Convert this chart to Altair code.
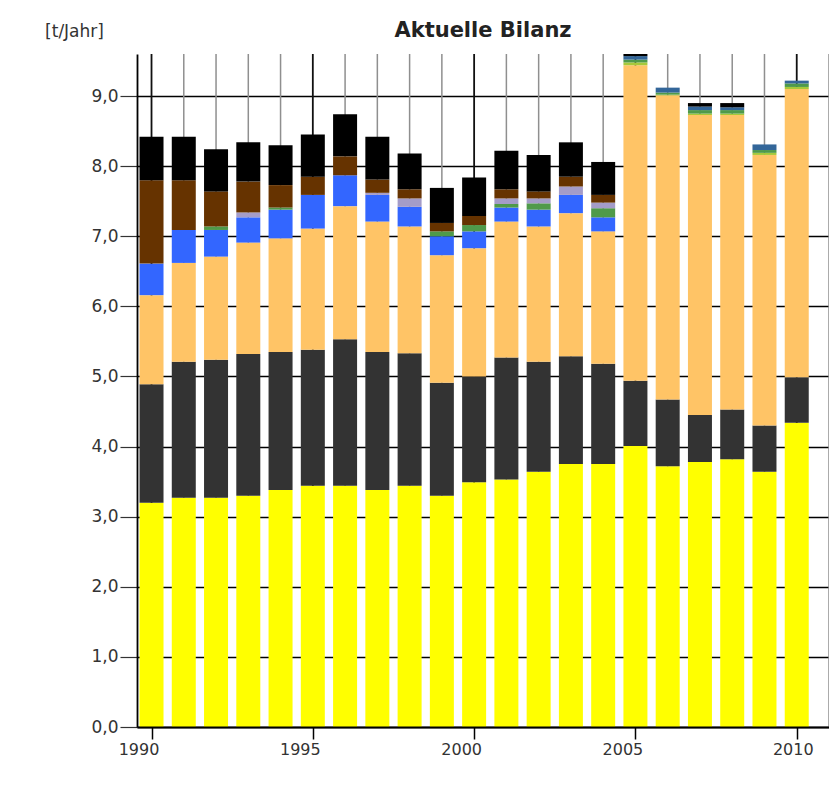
import altair as alt
import pandas as pd

# ---- data, stacked bottom -> top ----
years = list(range(1990, 2011))
yellow = [3.20, 3.27, 3.27, 3.30, 3.38, 3.44, 3.44, 3.38, 3.44, 3.30, 3.49,
          3.53, 3.64, 3.75, 3.75, 4.01, 3.72, 3.78, 3.82, 3.64, 4.34]
dark_gray = [1.69, 1.94, 1.97, 2.02, 1.97, 1.94, 2.09, 1.97, 1.89, 1.61, 1.51,
             1.74, 1.57, 1.54, 1.43, 0.93, 0.95, 0.67, 0.71, 0.66, 0.65]
orange = [1.27, 1.41, 1.47, 1.59, 1.62, 1.73, 1.90, 1.86, 1.81, 1.82, 1.83,
          1.94, 1.93, 2.04, 1.89, 4.50, 4.34, 4.28, 4.20, 3.86, 4.11]
yellow_green = [0, 0, 0, 0, 0, 0, 0, 0, 0, 0, 0,
                0, 0, 0, 0, 0.04, 0.01, 0.02, 0.02, 0.03, 0.03]
blue = [0.45, 0.47, 0.38, 0.36, 0.41, 0.48, 0.44, 0.38, 0.28, 0.27, 0.24,
        0.20, 0.24, 0.26, 0.20, 0, 0, 0, 0, 0, 0]
green = [0, 0, 0.05, 0, 0.03, 0, 0, 0, 0, 0.07, 0.09,
         0.05, 0.09, 0, 0.13, 0.04, 0.03, 0.05, 0.05, 0.04, 0.05]
steel = [0, 0, 0, 0, 0, 0, 0, 0, 0, 0, 0,
         0, 0, 0, 0, 0.05, 0.07, 0.05, 0.04, 0.08, 0.04]
lavender = [0, 0, 0, 0.07, 0, 0, 0, 0.03, 0.12, 0, 0,
            0.08, 0.07, 0.12, 0.08, 0, 0, 0, 0, 0, 0]
brown = [1.19, 0.71, 0.50, 0.44, 0.32, 0.26, 0.27, 0.19, 0.13, 0.12, 0.13,
         0.13, 0.10, 0.14, 0.11, 0, 0, 0, 0, 0, 0]
black = [0.62, 0.62, 0.60, 0.56, 0.57, 0.60, 0.60, 0.61, 0.51, 0.50, 0.55,
         0.55, 0.52, 0.49, 0.47, 0.03, 0, 0.05, 0.06, 0, 0]

series_names = ["s1", "s2", "s3", "s4", "s5", "s6", "s7", "s8", "s9", "s10"]
series_values = [yellow, dark_gray, orange, yellow_green, blue, green,
                 steel, lavender, brown, black]
series_colors = ["#FFFF00", "#333333", "#FFC466", "#A6C93A", "#3366FF",
                 "#4F9A4A", "#336699", "#A49CC8", "#663300", "#000000"]
x_labels = [1990, 1995, 2000, 2005, 2010]
y_ticks = list(range(0, 10))

rows = []
for k, (name, vals) in enumerate(zip(series_names, series_values)):
    for yr, v in zip(years, vals):
        rows.append({"Jahr": yr, "Quelle": name, "Wert": v, "k": k})
df = pd.DataFrame(rows)

grid_years = years + [years[-1] + 1]
major = pd.DataFrame({"Jahr": [y for y in grid_years if y % 5 == 0]})
minor = pd.DataFrame({"Jahr": [y for y in grid_years if y % 5 != 0]})

W, H = 692, 673
x_scale = alt.Scale(domain=[1989.55, 2011.0], nice=False, zero=False, padding=0)
y_scale = alt.Scale(domain=[0, 9.6], nice=False, padding=0)

x_axis = alt.Axis(values=x_labels, format="d", grid=False,
                  tickSize=12, labelFontSize=16, zindex=1,
                  labelOffset={"condition": {"test": "datum.value == 2010", "value": -4},
                               "value": -13})


def x_enc():
    return alt.X("Jahr:Q", scale=x_scale, title=None, axis=x_axis)


minor_rules = alt.Chart(minor).mark_rule(color="#8f8f8f", strokeWidth=1.5).encode(
    x=x_enc(), y=alt.value(0), y2=alt.value(H),
)
major_rules = alt.Chart(major).mark_rule(color="#111111", strokeWidth=1.8).encode(
    x=x_enc(), y=alt.value(0), y2=alt.value(H),
)

bars = alt.Chart(df).mark_bar(size=24).encode(
    x=x_enc(),
    y=alt.Y("Wert:Q", stack="zero", scale=y_scale,
            axis=alt.Axis(values=y_ticks,
                          labelExpr="replace(format(datum.value, '.1f'), '.', ',')",
                          grid=True, gridColor="#000", gridWidth=1.6,
                          tickSize=17, tickWidth=1.2, tickColor="#333",
                          labelFontSize=17,
                          title="[t/Jahr]", titleAngle=0, titleX=-63, titleY=-18,
                          titleAlign="center", titleBaseline="alphabetic",
                          titleFont="DejaVu Sans", titleFontSize=17,
                          titleFontWeight="normal", titleColor="#333")),
    color=alt.Color("Quelle:N", scale=alt.Scale(domain=series_names, range=series_colors),
                    legend=None),
    order=alt.Order("k:Q", sort="ascending"),
)

chart = alt.layer(minor_rules, major_rules, bars).properties(
    width=W, height=H,
    title=alt.TitleParams("Aktuelle Bilanz", font="DejaVu Sans", fontSize=21,
                          fontWeight="bold", color="#222", anchor="middle",
                          frame="group", offset=16, dy=52, baseline="alphabetic"),
    autosize=alt.AutoSizeParams(type="none"),
    padding={"left": 129, "top": 46, "right": 0, "bottom": 60},
    background="white",
).configure_view(
    stroke=None
).configure_axisX(
    tickSize=12, tickColor="#000", tickWidth=1.5,
    domainColor="#000", domainWidth=1.8,
    labelFont="DejaVu Sans", labelFontSize=16, labelColor="#333", labelPadding=2,
    labelFlush=False,
).configure_axisY(
    tickSize=17, tickColor="#333", tickWidth=1.2,
    domainColor="#000", domainWidth=1.8,
    labelFont="DejaVu Sans", labelFontSize=17, labelColor="#333", labelPadding=2,
)

chart.save("out.html", embed_options={"renderer": "svg", "actions": False})
